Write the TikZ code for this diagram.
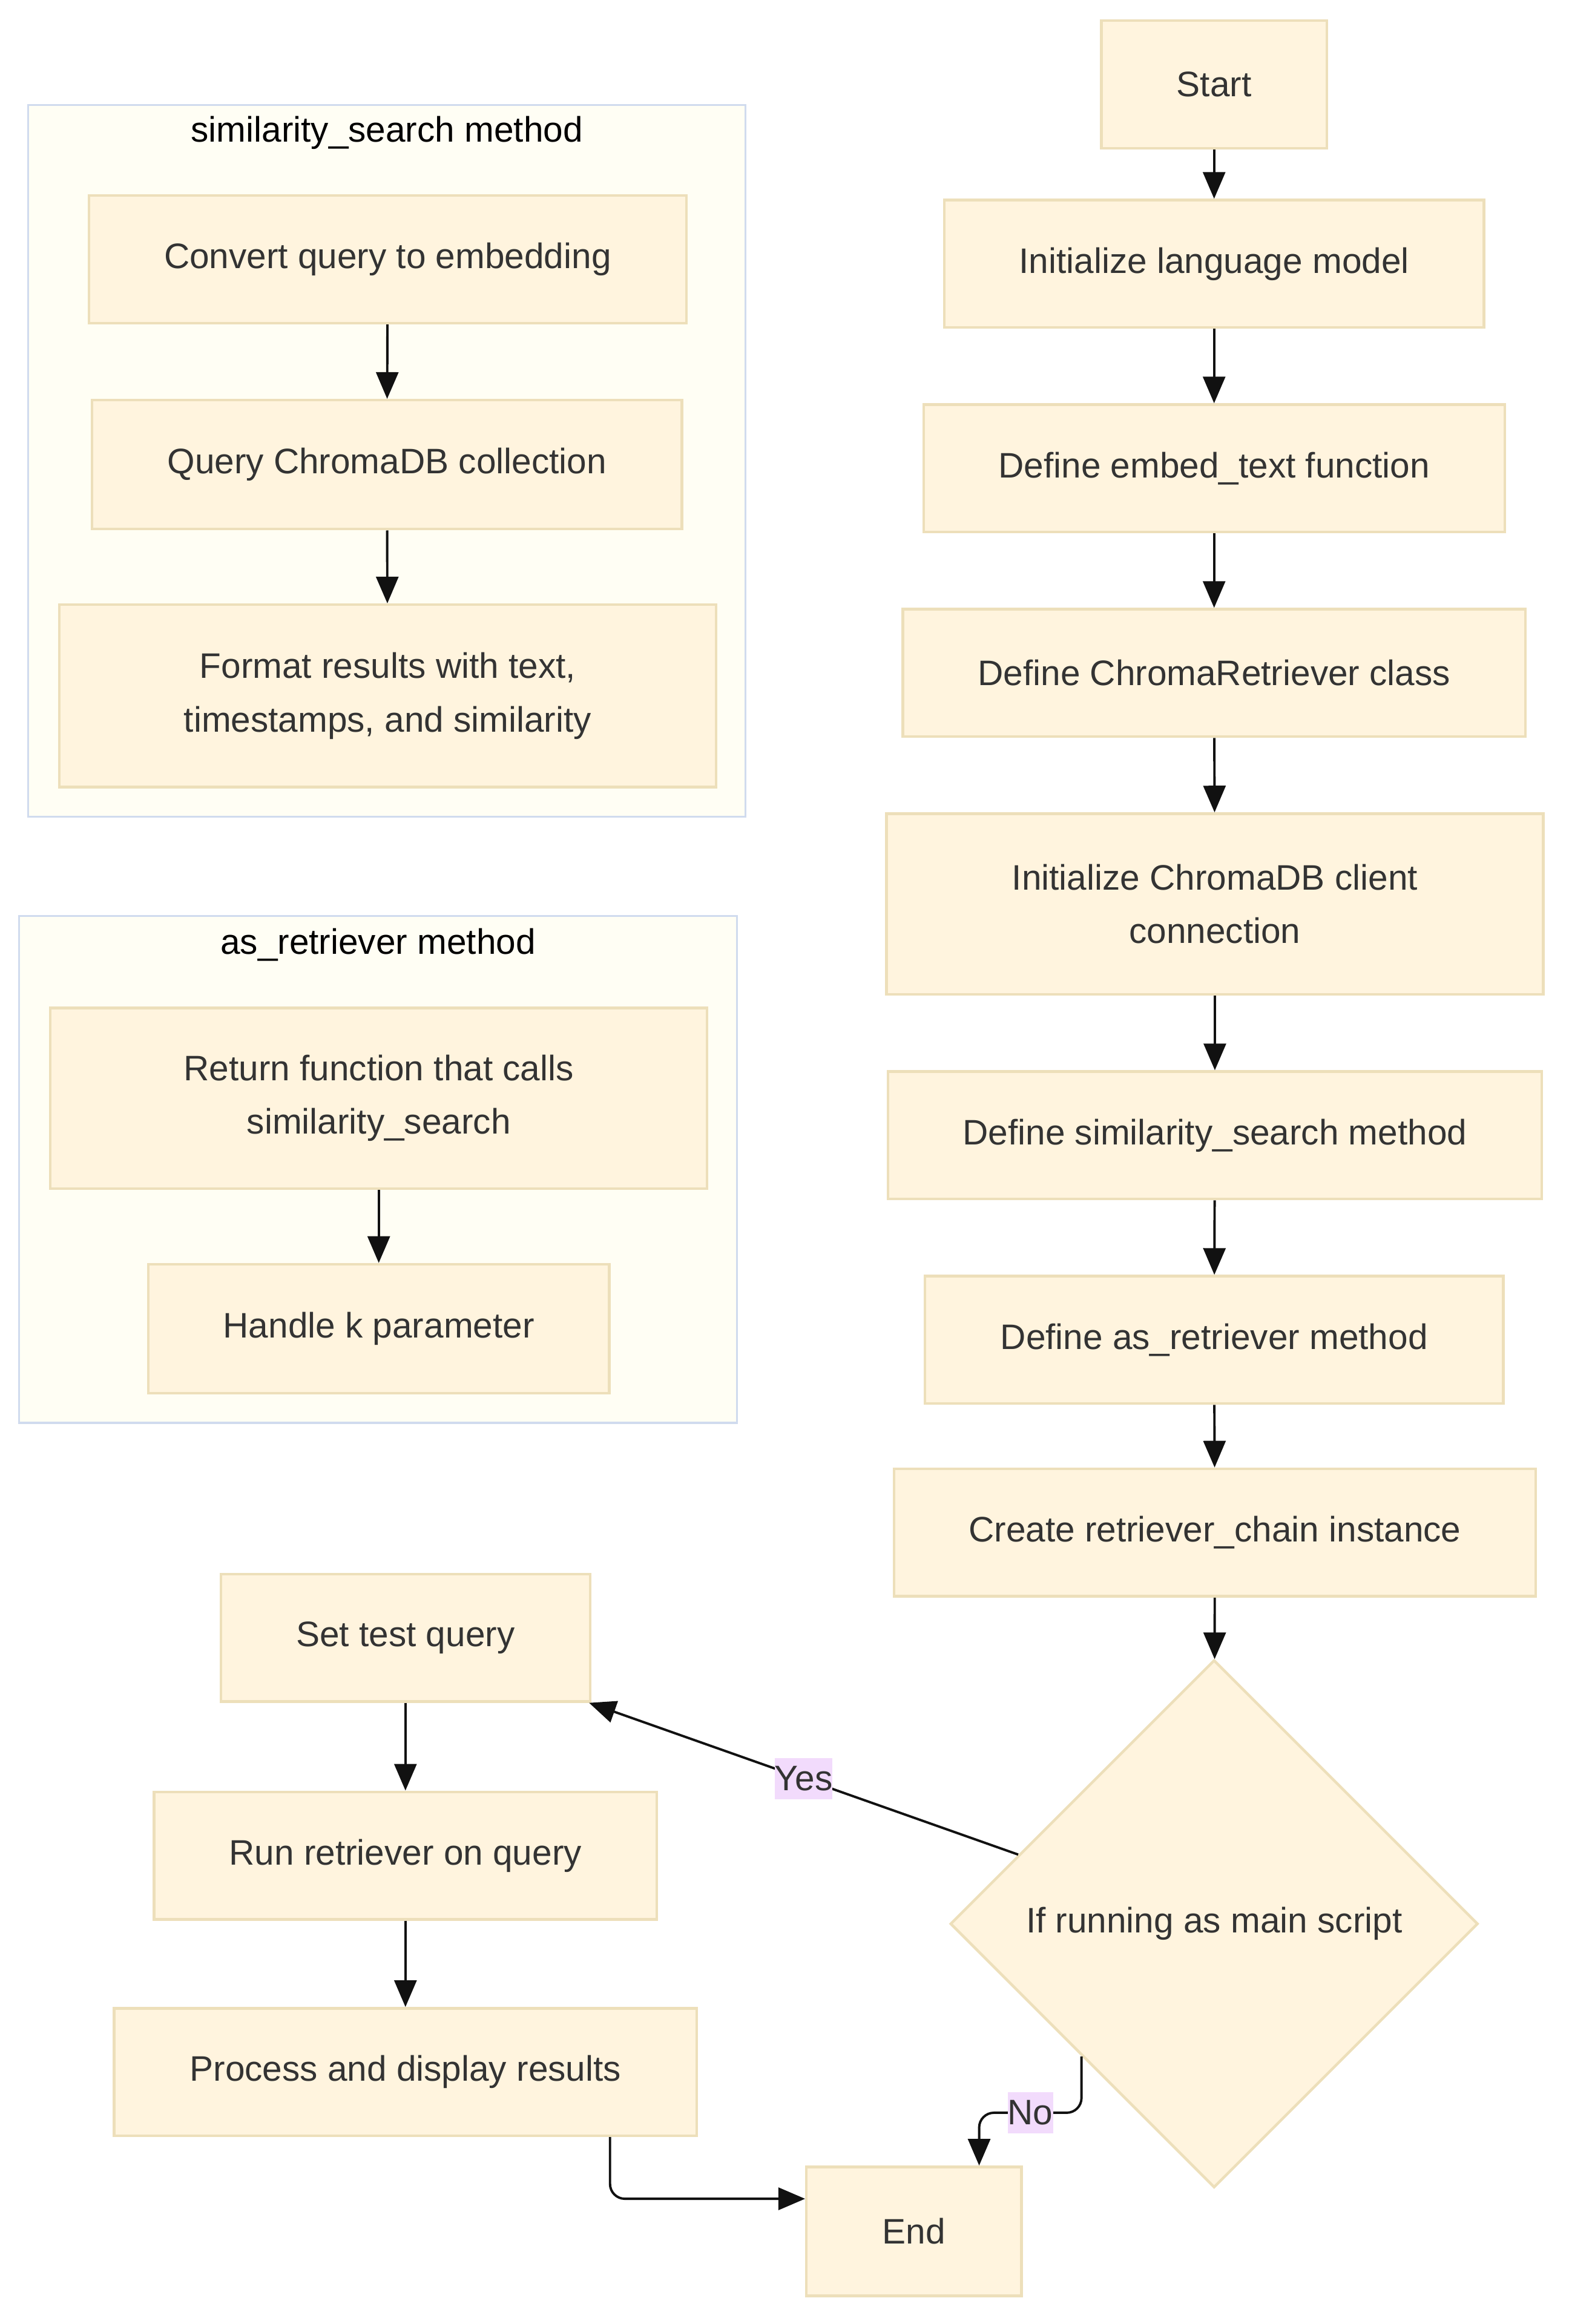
\documentclass[tikz,border=0pt]{standalone}
\usepackage{fontspec}
\setmainfont{Liberation Sans}
\usepackage{tikz}
\usetikzlibrary{arrows.meta, shapes.geometric}

\definecolor{boxfill}{HTML}{FFF4DE}
\definecolor{boxline}{HTML}{EDDFBA}
\definecolor{grpfill}{HTML}{FFFEF4}
\definecolor{grpline}{HTML}{D0DBEE}
\definecolor{lblfill}{HTML}{F2DBFC}
\definecolor{txt}{HTML}{333333}
\definecolor{edge}{HTML}{111111}

\begin{document}
\begin{tikzpicture}[x=1pt, y=-1pt,
        box/.style={draw=boxline, fill=boxfill, line width=1.8pt, text=txt, align=center,
            inner sep=0pt, font=\fontsize{23.9}{36}\selectfont},
        decision/.style={box, diamond, minimum width=356pt, minimum height=356pt},
        flow/.style={line width=1.6pt, draw=edge, -{Triangle[length=18pt,width=15pt]}},
        lbl/.style={fill=lblfill, text=txt, sharp corners, inner xsep=0pt, inner ysep=5.5pt,
            font=\fontsize{23.9}{28}\selectfont},
        grptitle/.style={text=black, inner sep=0pt, font=\fontsize{23.9}{28}\selectfont}]

            \useasboundingbox (0,0) rectangle (1058,1568);

            \filldraw[draw=grpline, fill=grpfill, line width=1.3pt] (19,71) rectangle (503,551);
            \node[grptitle] (simtitle) at (261,89.5) {similarity\_search method};
            \filldraw[draw=grpline, fill=grpfill, line width=1.3pt] (13,618) rectangle (497,960);
            \node[grptitle] (rettitle) at (255,637.5) {as\_retriever method};

            \node[box, minimum width=152pt, minimum height=86pt] (start) at (819,57) {Start};
            \node[box, minimum width=364pt, minimum height=86pt] (initlm) at (819,178) {Initialize language model};
            \node[box, minimum width=392pt, minimum height=86pt] (embed) at (819,316) {Define embed\_text function};
            \node[box, minimum width=420pt, minimum height=86pt] (cls) at (819,454) {Define ChromaRetriever class};
            \node[box, minimum width=443pt, minimum height=122pt] (client) at (819.5,610) {Initialize ChromaDB client\\connection};
            \node[box, minimum width=441pt, minimum height=86pt] (simdef) at (819.5,766) {Define similarity\_search method};
            \node[box, minimum width=390pt, minimum height=86pt] (retdef) at (819,904) {Define as\_retriever method};
            \node[box, minimum width=433pt, minimum height=86pt] (chain) at (819.5,1034) {Create retriever\_chain instance};
            \node[decision] (cond) at (819,1298) {If running as main script};
            \node[box, minimum width=145pt, minimum height=87pt] (endn) at (616.5,1505.5) {End};

            \node[box, minimum width=249pt, minimum height=86pt] (setq) at (273.5,1105) {Set test query};
            \node[box, minimum width=339pt, minimum height=86pt] (runq) at (273.5,1252) {Run retriever on query};
            \node[box, minimum width=393pt, minimum height=86pt] (proc) at (273.5,1398) {Process and display results};

            \node[box, minimum width=403pt, minimum height=86pt] (conv) at (261.5,175) {Convert query to embedding};
            \node[box, minimum width=398pt, minimum height=87pt] (qdb) at (261,313.5) {Query ChromaDB collection};
            \node[box, minimum width=443pt, minimum height=123pt] (fmt) at (261.5,469.5) {Format results with text,\\timestamps, and similarity};

            \node[box, minimum width=443pt, minimum height=122pt] (retfn) at (255.5,741) {Return function that calls\\similarity\_search};
            \node[box, minimum width=311pt, minimum height=87pt] (handk) at (255.5,896.5) {Handle k parameter};

            \draw[flow] (start) -- (initlm);
            \draw[flow] (initlm) -- (embed);
            \draw[flow] (embed) -- (cls);
            \draw[flow] (cls) -- (client);
            \draw[flow] (client) -- (simdef);
            \draw[flow] (simdef) -- (retdef);
            \draw[flow] (retdef) -- (chain);
            \draw[flow] (chain) -- (cond);

            \draw[flow] (cond) -- node[lbl, pos=0.5] {Yes} (setq);
            \draw[flow, rounded corners=10pt] (cond.south west) -- ++(0,38) -| node[lbl, pos=0.25] {No} ([xshift=44pt]endn.north);

            \draw[flow] (setq) -- (runq);
            \draw[flow] (runq) -- (proc);
            \draw[flow, rounded corners=10pt] ([xshift=138pt]proc.south) |- ([yshift=22pt]endn.west);

            \draw[flow] (conv) -- (qdb);
            \draw[flow] (qdb) -- (fmt);
            \draw[flow] (retfn) -- (handk);

        \end{tikzpicture}
\end{document}
